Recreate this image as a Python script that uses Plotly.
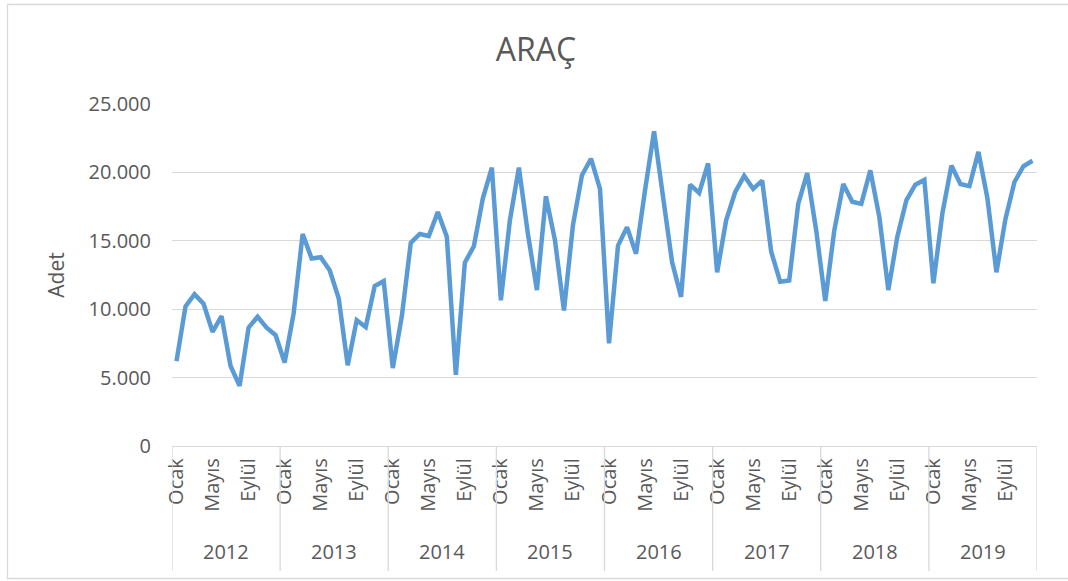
import plotly.graph_objects as go

years = ["2012", "2013", "2014", "2015", "2016", "2017", "2018", "2019"]
months = ["Ocak", "Şubat", "Mart", "Nisan", "Mayıs", "Haziran", "Temmuz",
          "Ağustos", "Eylül", "Ekim", "Kasım", "Aralık"]
shown_months = ["Ocak", "Mayıs", "Eylül"]

v2012 = [6200, 10200, 11100, 10400, 8350, 9500, 5850, 4400, 8650, 9450, 8650, 8100]
v2013 = [6100, 9700, 15500, 13700, 13800, 12850, 10800, 5900, 9200, 8700, 11700, 12050]
v2014 = [5700, 9450, 14850, 15500, 15350, 17100, 15300, 5200, 13400, 14600, 18100, 20350]
v2015 = [10650, 16500, 20350, 15500, 11400, 18250, 15050, 9900, 16150, 19800, 21000, 18800]
v2016 = [7500, 14650, 16000, 14050, 18700, 23000, 18200, 13450, 10900, 19100, 18500, 20650]
v2017 = [12700, 16500, 18550, 19750, 18800, 19400, 14200, 12000, 12100, 17700, 19950, 15750]
v2018 = [10600, 15750, 19150, 17850, 17700, 20150, 16750, 11400, 15300, 17950, 19100, 19450]
v2019 = [11900, 17000, 20500, 19150, 19000, 21500, 18100, 12700, 16600, 19300, 20450, 20850]

values = v2012 + v2013 + v2014 + v2015 + v2016 + v2017 + v2018 + v2019
n_m = len(months)
x = list(range(len(values)))

TEXT = "#595959"
GRID = "#d9d9d9"
FONT = "Open Sans"

W, H = 1068, 581
L, R, T, B = 172, 31, 104, 135
pw, ph = W - L - R, H - T - B

def px(p):
    return (p - L) / pw

def py(p):
    return (H - B - p) / ph

fig = go.Figure()
fig.add_trace(go.Scatter(
    x=x, y=values, mode="lines",
    line=dict(color="#5b9bd5", width=4.5),
    hoverinfo="skip", showlegend=False,
))

tickvals = [i for i in x if months[i % n_m] in shown_months]
ticktext = [months[i % n_m] for i in tickvals]

shapes = []
annotations = []
for k, yr in enumerate(years):
    annotations.append(dict(
        x=k * n_m + (n_m - 1) / 2, y=py(551), xref="x", yref="paper",
        text=yr, showarrow=False, font=dict(family=FONT, size=20, color=TEXT),
        xanchor="center", yanchor="middle"))
for k in range(len(years) + 1):
    xs = k * n_m - 0.5
    shapes.append(dict(type="line", xref="x", yref="paper",
                       x0=xs, x1=xs, y0=0, y1=py(571),
                       line=dict(color=GRID, width=1.3)))
# chart frame
shapes.append(dict(type="rect", xref="paper", yref="paper",
                   x0=px(7.5), x1=px(1070), y0=py(578.5), y1=py(4.5),
                   line=dict(color=GRID, width=1.3), fillcolor="rgba(0,0,0,0)",
                   layer="below"))

fig.update_layout(
    width=W, height=H,
    margin=dict(l=L, r=R, t=T, b=B, pad=0),
    paper_bgcolor="white", plot_bgcolor="white",
    separators=",.",
    font=dict(family=FONT, color=TEXT),
    title=dict(text="ARAÇ", xref="container", x=536 / W, xanchor="center",
               yref="container", y=1 - 50 / H, yanchor="middle",
               font=dict(family=FONT, size=32, color=TEXT)),
    xaxis=dict(
        range=[-0.5, len(values) - 0.5],
        tickmode="array", tickvals=tickvals, ticktext=ticktext,
        tickangle=-90, tickfont=dict(family=FONT, size=20, color=TEXT),
        showgrid=False, zeroline=False,
        showline=True, linecolor=GRID, linewidth=1.3,
        ticks="", ticklabelstandoff=3,
    ),
    yaxis=dict(
        range=[0, 25000], tickvals=[0, 5000, 10000, 15000, 20000, 25000],
        tickformat=",d",
        tickfont=dict(family=FONT, size=20, color=TEXT),
        showgrid=True, gridcolor=GRID, gridwidth=1.3,
        zeroline=False, showline=False, ticks="",
        ticklabelstandoff=20,
        title=dict(text="Adet", font=dict(family=FONT, size=21, color=TEXT),
                   standoff=18),
    ),
    shapes=shapes,
    annotations=annotations,
)

fig.write_html("out.html",
               config={"displayModeBar": False},
               post_script="document.body.style.margin='0';document.body.style.padding='0';")
